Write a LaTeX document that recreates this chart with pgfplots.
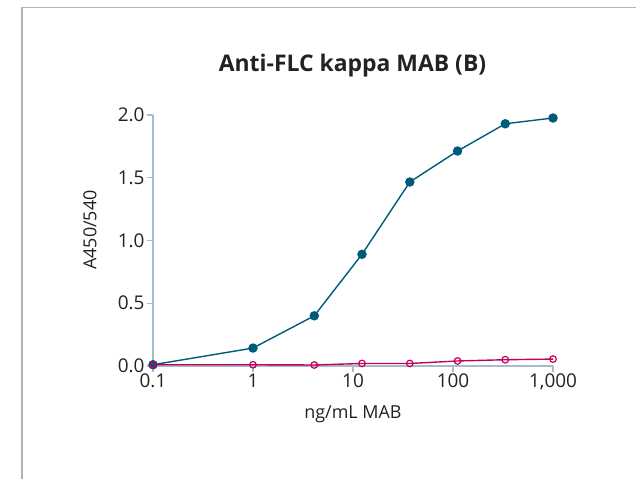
\documentclass[border=0pt]{standalone}
\usepackage{pgfplots}
\pgfplotsset{compat=1.18}
\usepackage{fontspec}
\setmainfont{Open Sans}
\definecolor{framec}{HTML}{A9B6BF}
\definecolor{axc}{HTML}{A7BBC9}
\definecolor{blueser}{HTML}{005A7A}
\definecolor{pinkser}{HTML}{C4005E}
\definecolor{txt}{HTML}{222222}
\begin{document}
\begin{tikzpicture}[x=1bp,y=1bp]
\useasboundingbox (0,0) rectangle (636,479);
\draw[framec, line width=1.5bp] (21.75,0) -- (21.75,471.25) -- (636,471.25);
\node[font=\bfseries\fontsize{23}{27}\selectfont, text=txt] at (352.5,413) {Anti-FLC kappa MAB (B)};
\node[font=\fontsize{18}{22}\selectfont, text=txt] at (353,65) {ng/mL MAB};
\node[font=\fontsize{18}{22}\selectfont, text=txt, rotate=90] at (90,249) {A450/540};
\begin{axis}[
  at={(153bp,113bp)}, anchor=south west,
  width=400bp, height=251bp, scale only axis,
  xmode=log, xmin=0.1, xmax=1000, ymin=0, ymax=2,
  axis x line*=bottom, axis y line*=left,
  axis line style={axc, line width=1.3bp},
  tick style={axc, line width=1.3bp},
  tick align=outside, major tick length=6bp,
  xminorticks=false,
  xtick={0.1,1,10,100,1000},
  xticklabels={0.1,1,10,100,{1,000}},
  ytick={0,0.5,1,1.5,2},
  yticklabels={0.0,0.5,1.0,1.5,2.0},
  ticklabel style={font=\fontsize{19}{22}\selectfont, text=txt},
  xticklabel style={yshift=2bp},
  yticklabel style={xshift=1bp},
  clip=false,
]
\addplot[blueser, line width=1.4bp, mark=*, mark size=4bp, mark options={fill=blueser, draw=blueser}]
  coordinates {(0.1,0.01)(1,0.143)(4.1,0.40)(12.3,0.89)(37,1.466)(111,1.713)(333,1.93)(1000,1.976)};
\addplot[pinkser, line width=1.4bp, mark=o, mark size=3.3bp, mark options={fill=white, draw=pinkser, line width=1.2bp}]
  coordinates {(0.1,0.01)(1,0.01)(4.1,0.008)(12.3,0.02)(37,0.02)(111,0.04)(333,0.05)(1000,0.055)};
\end{axis}
\end{tikzpicture}
\end{document}
